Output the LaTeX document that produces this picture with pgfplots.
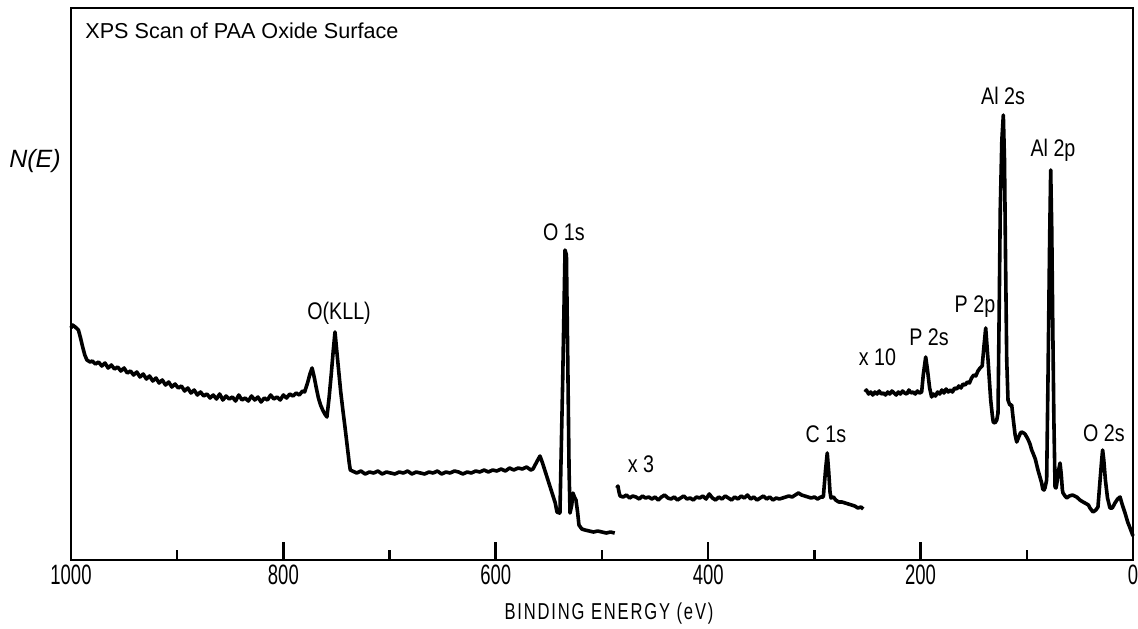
\documentclass[border=0pt]{standalone}
\usepackage{fontspec}
\setmainfont{Liberation Sans}
\newfontfamily\tickfont[FakeStretch=0.66]{Liberation Sans}
\newfontfamily\peakfont[FakeStretch=0.82]{Liberation Sans}
\newfontfamily\labelfont[FakeStretch=0.72,LetterSpace=8]{Liberation Sans}
\usepackage{pgfplots}
\pgfplotsset{compat=1.18}

\begin{document}
\begin{tikzpicture}
\useasboundingbox (0,0) rectangle (569pt,314pt);
\begin{axis}[
  at={(35.5pt,34pt)}, anchor=south west,
  scale only axis, width=531pt, height=276pt,
  xmin=0, xmax=1000, x dir=reverse,
  ymin=0, ymax=552,
  axis line style={line width=1.3pt},
  xtick={0,200,400,600,800,1000},
  xticklabels={0,200,400,600,800,1000},
  minor xtick={100,300,500,700,900},
  ytick=\empty,
  xtick pos=left,
  tick align=inside,
  major tick length=9pt, minor tick length=5pt,
  every tick/.style={line width=1.3pt, black},
  xticklabel style={font=\tickfont\fontsize{14}{16}\selectfont, yshift=1pt},
  no markers, clip=false,
]
% survey scan, x1
\addplot[black, line width=1.8pt, line join=round] coordinates {
(1000,232) (998.5,235) (996,233) (993,230) (991,222) (989,213) (987,205) (985,200) (982,198)
(980,199) (977,196) (974,198) (971,194) (968,197) (965,192) (962,195) (959,191) (956,193)
(953,189) (950,192) (947,187) (944,189) (941,185) (938,188) (935,183) (932,186) (929,181)
(926,184) (923,179) (920,182) (917,177) (914,180) (911,175) (908,178) (905,173) (902,176)
(899,172) (896,174) (893,169) (890,172) (887,167) (884,170) (881,165) (878,168) (875,164)
(872,166) (869,162) (866,165) (863,161) (860,166) (857,160) (854,164) (851,161) (848,163)
(845,159) (842,165) (839,160) (836,162) (833,159) (830,164) (827,160) (824,163) (821,158)
(818,162) (815,160) (812,165) (809,161) (806,163) (803,160) (800,165) (797,162) (794,166)
(791,164) (788,167) (785,165) (782,169) (780,168) (777,178) (775,186) (773,192) (771,183)
(769,172) (767,162) (765,155) (763,150) (761,146) (759,143) (757,162) (755,185) (753,210)
(751.4,228) (750,212) (748,190) (746,168) (744,150) (742,133) (740,115) (738,97) (737,90)
(735,89) (731,87) (727,89) (723,86) (719,88) (715,87) (711,89) (707,86) (703,88) (699,87)
(695,86) (691,88) (687,87) (683,89) (679,86) (675,88) (671,87) (667,86) (663,88) (659,87)
(655,89) (651,86) (647,88) (643,87) (639,89) (635,88) (631,86) (627,88) (623,87) (619,89)
(615,88) (611,90) (607,88) (603,90) (599,89) (595,91) (591,89) (587,92) (583,90) (579,92)
(575,91) (571,93) (567,90) (565,91) (563,95) (561,99) (558.4,104) (556,97) (553,87)
(550,77) (547,67) (544,57) (542.4,48) (540,47) (539.6,47) (537,180) (534.8,310) (533.5,305)
(532,180) (531,90) (530.1,47) (528.5,55) (527.3,67) (526,63) (524.5,60) (523,48) (521.7,35)
(519,31) (516,30) (512,29) (508,28) (504,29) (500,28) (496,27) (492,28) (488,27)
};
% carbon region, x3
\addplot[black, line width=1.8pt, line join=round] coordinates {
(486,72) (485,74) (484,68) (483,64) (480,63) (477,65) (474,62) (471,64) (468,63) (465,61)
(462,64) (459,62) (456,63) (453,61) (450,63) (447,60) (444,63) (441,65) (438,62) (435,61)
(432,63) (429,60) (426,62) (423,64) (420,61) (417,62) (414,60) (411,63) (408,62) (405,64)
(402,61) (399,66) (396,62) (393,60) (390,63) (387,61) (384,64) (381,62) (378,60) (375,63)
(372,61) (369,64) (366,62) (363,65) (360,61) (357,63) (354,60) (351,62) (348,64) (345,61)
(342,63) (339,60) (336,62) (333,61) (330,62) (327,63) (324,64) (321,63) (318,65) (315,67)
(312,65) (309,64) (306,63) (303,62) (300,63) (297,61) (294,63) (291.6,63) (289.5,90)
(287.9,107) (286.5,88) (285.3,68) (284.4,62) (282,63) (280,60) (277,58) (274,58) (271,57)
(268,56) (265,55) (262,54) (259,52) (256,53) (254,51)
};
% low binding energy region, x10
\addplot[black, line width=1.8pt, line join=round] coordinates {
(252.4,168) (251,170) (249,166) (247,168) (245,165) (243,168) (241,166) (239,169) (237,166)
(235,167) (233,165) (231,168) (229,166) (227,169) (225,167) (223,165) (221,168) (219,166)
(217,169) (215,167) (213,166) (211,170) (209,167) (207,168) (205,166) (203,169) (201,167)
(199,168) (197.5,185) (195.2,203) (193.5,190) (191.5,172) (189.6,163) (188,166) (186,164)
(184,168) (182,166) (180,170) (178,167) (176,171) (174,168) (172,170) (170,168) (168,172)
(166,171) (164,174) (162,172) (160,176) (158,175) (156,178) (154,177) (152,182) (150,185)
(148,184) (146,189) (144,192) (142,194) (140.5,212) (138.7,232) (136.5,200) (134,160)
(132.5,145) (131.6,138) (130,137) (128.3,140) (127.1,147) (126,250) (125,350) (123.5,420)
(122.1,445) (121,400) (120,300) (118.9,200) (117.7,160) (116,155) (114.2,155) (113,143)
(111,125) (109.5,118) (108,122) (106,127) (104.8,128) (103,127) (101.7,126) (99,121)
(97,116) (95.4,110) (94.2,107) (92,101) (89.5,90) (87.6,83) (86,77) (85,71) (83.8,70)
(82.9,72) (81.3,80) (80,185) (78.5,320) (77.5,390) (76.5,330) (75.5,230) (74.5,140)
(73.4,73) (72.5,72) (71.8,76) (70,90) (68.7,97) (67.5,85) (66.5,70) (65.9,67) (64,64)
(62.4,62) (60,64) (57,65) (55,64) (53,63) (50,60) (47,58) (45.2,57) (42,55) (40.5,52)
(37.7,48) (35,50) (33,53) (31,80) (29.5,100) (28.6,110) (27.5,100) (26,80) (24,62)
(21.7,52) (19.5,52) (17,57) (14.5,61) (12.2,63) (10,55) (7.5,47) (5,38) (2.8,32) (1,27) (0,24)
};
% peak assignments and scale factors
\begin{scope}[every node/.style={font=\peakfont\fontsize{12}{14}\selectfont, inner sep=0pt}]
\node at (axis cs:747.6,247) {O(KLL)};
\node at (axis cs:535.8,328) {O 1s};
\node at (axis cs:463.3,96) {x 3};
\node at (axis cs:289.1,126) {C 1s};
\node at (axis cs:240.6,202.5) {x 10};
\node at (axis cs:192.1,222.5) {P 2s};
\node at (axis cs:148.8,253.5) {P 2p};
\node at (axis cs:122.4,464) {Al 2s};
\node at (axis cs:75.3,410) {Al 2p};
\node at (axis cs:27.3,126.5) {O 2s};
\end{scope}
\node[anchor=base west, inner sep=0pt, font=\fontsize{10.8}{12}\selectfont]
  at (axis cs:986.8,521) {XPS Scan of PAA Oxide Surface};
\node[inner sep=0pt, font=\itshape\fontsize{12.5}{14}\selectfont] at (axis cs:1033.9,399) {N(E)};
\node[inner sep=0pt, font=\labelfont\fontsize{11.5}{13}\selectfont] at (axis cs:493.4,-54) {BINDING ENERGY (eV)};
\end{axis}
\end{tikzpicture}
\end{document}
